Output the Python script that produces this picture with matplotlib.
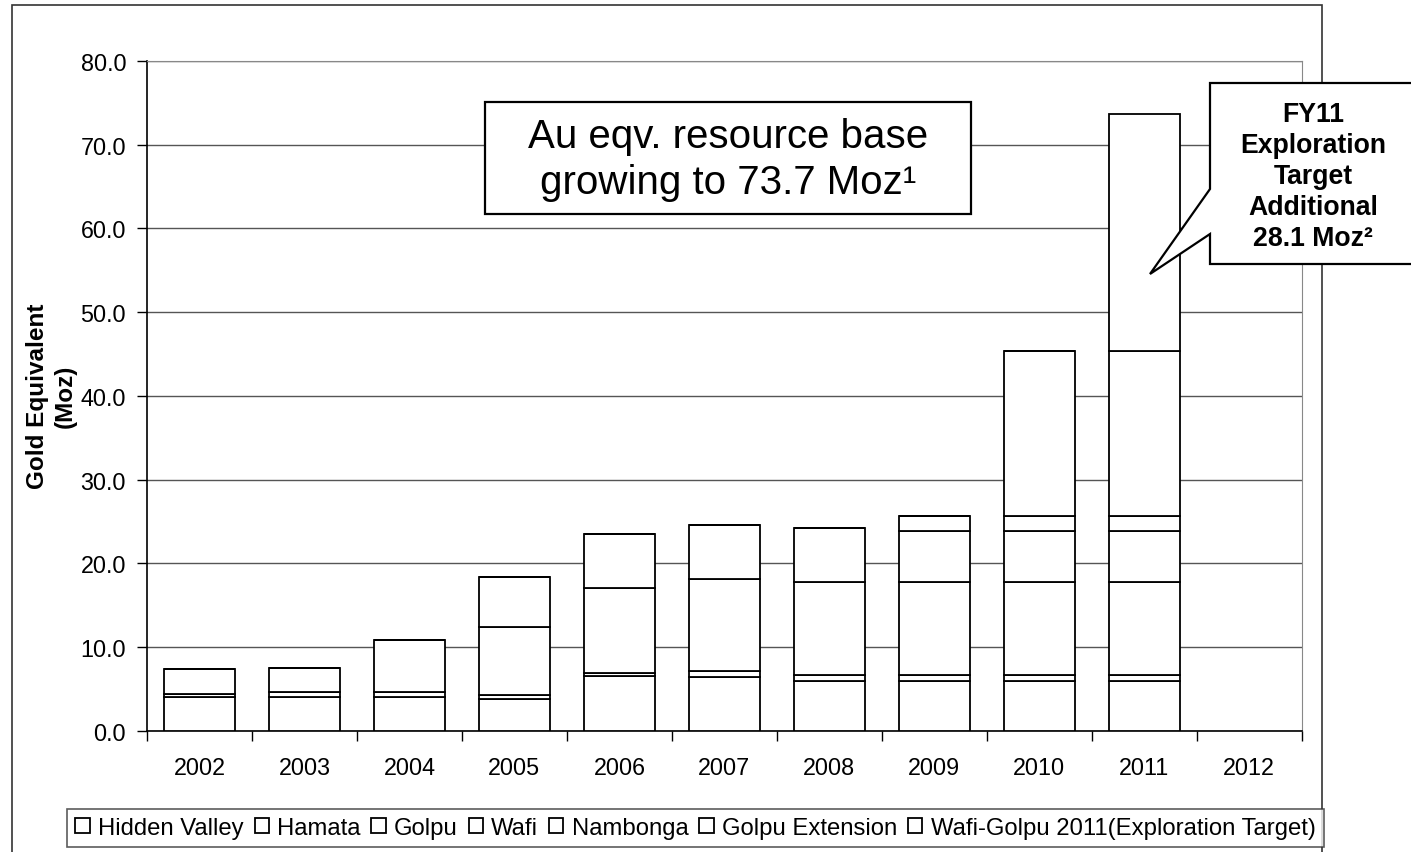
import numpy as np
from matplotlib import pyplot as plt
from matplotlib.patches import Rectangle, Polygon

plt.rcParams['font.family'] = ['Liberation Sans', 'DejaVu Sans']

# years on the x axis (2012 stays empty)
years = ['2002', '2003', '2004', '2005', '2006', '2007', '2008', '2009', '2010', '2011', '2012']

# resource per deposit, Moz gold equivalent, stacked bottom to top
hidden_valley = [4.0, 4.0, 4.0, 3.75, 6.5, 6.45, 5.95, 5.95, 5.95, 5.95, 0]
hamata = [0.4, 0.65, 0.65, 0.5, 0.4, 0.65, 0.7, 0.7, 0.7, 0.7, 0]
golpu = [0, 0, 0, 8.15, 10.15, 11.05, 11.05, 11.05, 11.05, 11.05, 0]
wafi = [2.9, 2.85, 6.2, 6.0, 6.45, 6.4, 6.45, 6.2, 6.2, 6.2, 0]
nambonga = [0, 0, 0, 0, 0, 0, 0, 1.75, 1.75, 1.75, 0]
golpu_extension = [0, 0, 0, 0, 0, 0, 0, 0, 19.7, 19.7, 0]
exploration_target = [0, 0, 0, 0, 0, 0, 0, 0, 0, 28.3, 0]

series = {
    'Hidden Valley': hidden_valley,
    'Hamata': hamata,
    'Golpu': golpu,
    'Wafi': wafi,
    'Nambonga': nambonga,
    'Golpu Extension': golpu_extension,
    'Wafi-Golpu 2011(Exploration Target)': exploration_target,
}

W, H = 1411, 853
fig = plt.figure(figsize=(W / 100, H / 100), dpi=100)

# plot area placed like the original (pixel based)
ax = fig.add_axes([147 / W, 1 - 731.6 / H, (1301.7 - 147) / W, (731.6 - 62) / H])

x = np.arange(len(years))
bottom = np.zeros(len(years))
handles = []
for name, vals in series.items():
    vals = np.array(vals, dtype=float)
    # only draw where the year actually has data
    mask = x < 10
    b = ax.bar(x[mask], vals[mask], bottom=bottom[mask], width=0.675,
               facecolor='white', edgecolor='black', linewidth=1.3,
               label=name, zorder=3)
    handles.append(b)
    bottom += vals

ax.set_xlim(-0.5, len(years) - 0.5)
ax.set_ylim(0, 80)
ax.set_yticks(np.arange(0, 81, 10))
ax.set_yticklabels(['%.1f' % v for v in np.arange(0, 81, 10)])
ax.tick_params(axis='y', direction='out', length=7, width=1, pad=8,
               labelsize=16.8)

# ticks between the categories, labels at the centres
ax.set_xticks(np.arange(-0.5, len(years), 1))
ax.set_xticklabels([])
ax.set_xticks(x, minor=True)
ax.set_xticklabels(years, minor=True)
ax.tick_params(axis='x', which='major', direction='out', length=7, width=1)
ax.tick_params(axis='x', which='minor', length=0, pad=18.5, labelsize=16.8)

ax.yaxis.grid(True, color='#555555', linewidth=1)
ax.set_axisbelow(True)
for side in ['top', 'right']:
    ax.spines[side].set_color('#888888')
for side in ['left', 'bottom']:
    ax.spines[side].set_color('black')
    ax.spines[side].set_linewidth(1.2)

ax.set_ylabel('Gold Equivalent\n(Moz)', fontsize=17.5, fontweight='bold',
              linespacing=1.26)
ax.yaxis.set_label_coords(-0.0606, 0.5)


def fx(px):
    return px / W


def fy(py):
    return 1 - py / H


# outer frame of the slide chart
fig.add_artist(Rectangle((fx(12), fy(870)), fx(1322) - fx(12), fy(6) - fy(870),
                         transform=fig.transFigure, fill=False,
                         edgecolor='#333333', linewidth=1.2, zorder=1))

# headline box
fig.add_artist(Rectangle((fx(485), fy(215)), fx(971) - fx(485), fy(103) - fy(215),
                         transform=fig.transFigure, facecolor='white',
                         edgecolor='black', linewidth=1.6, zorder=5))
fig.text(fx(728), fy(160), 'Au eqv. resource base\ngrowing to 73.7 Moz\u00b9',
         ha='center', va='center', fontsize=29, linespacing=1.3, zorder=6)

# speech bubble pointing at the 2011 exploration target
bubble = [(1210, 84), (1425, 84), (1425, 265), (1210, 265), (1210, 235),
          (1150, 275), (1210, 190)]
fig.add_artist(Polygon([(fx(a), fy(b)) for a, b in bubble], closed=True,
                       transform=fig.transFigure, facecolor='white',
                       edgecolor='black', linewidth=1.6, zorder=5))
fig.text(fx(1313), fy(177), 'FY11\nExploration\nTarget\nAdditional\n28.1 Moz\u00b2',
         ha='center', va='center', fontsize=19.2, fontweight='bold',
         linespacing=1.26, zorder=6)

leg = fig.legend(handles=handles, loc='center', ncol=7,
                 bbox_to_anchor=(fx(695.5), fy(829)), fontsize=17.2,
                 frameon=True, fancybox=False, edgecolor='#333333',
                 handlelength=0.6, handleheight=0.6, handletextpad=0.35,
                 columnspacing=0.45, borderpad=0.35, borderaxespad=0)
leg.get_frame().set_linewidth(1.2)

fig.savefig('out.png', dpi=100, facecolor='white')
